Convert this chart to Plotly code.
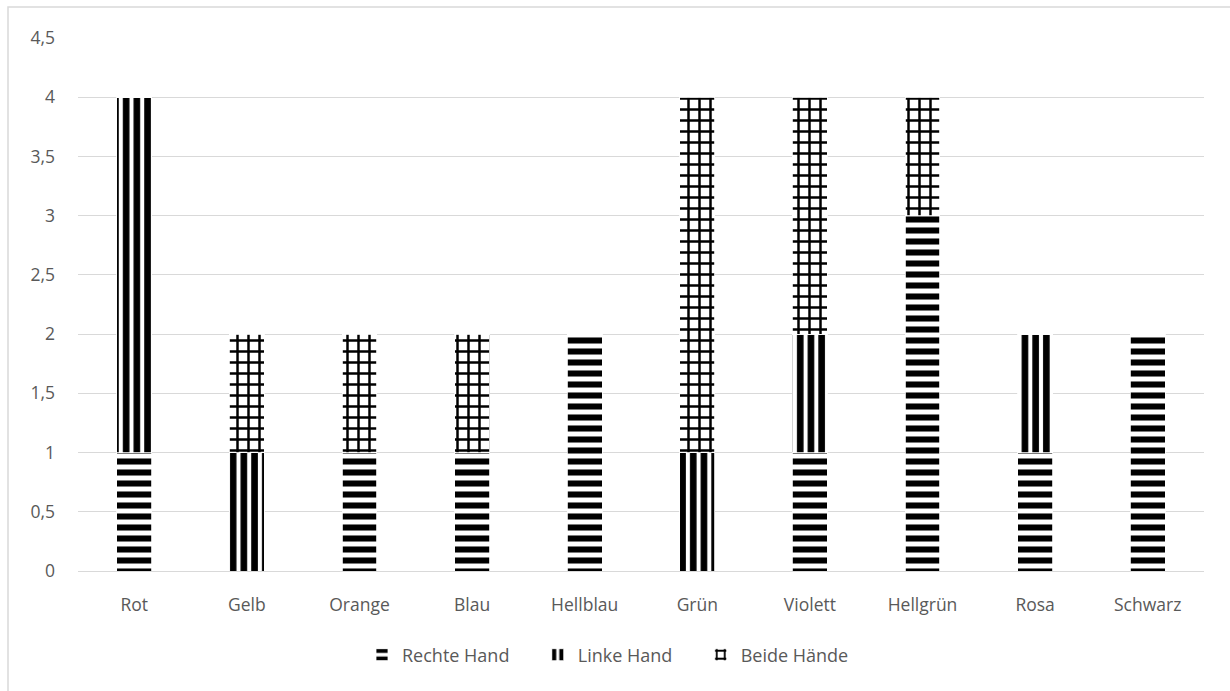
import plotly.graph_objects as go

# Farben / Kategorien
kategorien = ["Rot", "Gelb", "Orange", "Blau", "Hellblau", "Grün", "Violett", "Hellgrün", "Rosa", "Schwarz"]
rechte_hand = [1, 0, 1, 1, 2, 0, 1, 3, 1, 2]
linke_hand = [3, 1, 0, 0, 0, 1, 1, 0, 1, 0]
beide_haende = [0, 1, 1, 1, 0, 3, 2, 1, 0, 0]
y_ticks = [0, 0.5, 1, 1.5, 2, 2.5, 3, 3.5, 4, 4.5]
y_tick_text = ["0", "0,5", "1", "1,5", "2", "2,5", "3", "3,5", "4", "4,5"]

W, H = 1230, 691
L, R, T, B = 78, 26, 38, 120
PAD = "\u00a0" * 5  # Abstand zwischen Legendeneinträgen

serien = [
    ("Rechte Hand" + PAD, rechte_hand, "-", 11, 0.55),
    ("Linke Hand" + PAD, linke_hand, "|", 10.7, 0.62),
    ("Beide Hände", beide_haende, "+", 11, 0.4),
]

fig = go.Figure()
for name, werte, shape, size, solid in serien:
    fig.add_trace(go.Bar(
        name=name,
        x=kategorien,
        y=werte,
        width=0.31,
        marker=dict(
            color="white",
            line=dict(color="white", width=0.8),
            pattern=dict(shape=shape, fgcolor="black", bgcolor="white",
                         size=size, solidity=solid, fillmode="replace"),
        ),
    ))

font = dict(family="Open Sans, Noto Sans, sans-serif", size=18, color="#595959")
tick_font = dict(family="Open Sans, Noto Sans, sans-serif", size=17.5, color="#595959")

pw = W - L - R
ph = H - T - B
fig.update_layout(
    barmode="stack",
    width=W, height=H,
    margin=dict(l=L, r=R, t=T, b=B),
    paper_bgcolor="white",
    plot_bgcolor="white",
    font=font,
    xaxis=dict(showgrid=False, showline=False, ticks="", tickfont=tick_font,
               ticklabelstandoff=21),
    yaxis=dict(range=[0, 4.5], tickvals=y_ticks, ticktext=y_tick_text,
               showgrid=True, gridcolor="#d9d9d9", gridwidth=1,
               zeroline=True, zerolinecolor="#d9d9d9", zerolinewidth=1,
               showline=False, ticks="", ticklabelstandoff=22, tickfont=tick_font),
    legend=dict(orientation="h", x=(362 - L) / pw, xanchor="left",
                y=(571 - 655) / ph, yanchor="middle",
                font=font, traceorder="normal", itemwidth=30),
    showlegend=True,
)

# Rahmen um den Diagrammbereich
fig.add_shape(type="rect", xref="paper", yref="paper",
              x0=(8 - L) / pw, x1=(W + 5 - L) / pw,
              y0=(H - B - (H + 5)) / ph, y1=(H - B - 7) / ph,
              line=dict(color="#d9d9d9", width=1.5), layer="below")

fig.write_html("out.html")
